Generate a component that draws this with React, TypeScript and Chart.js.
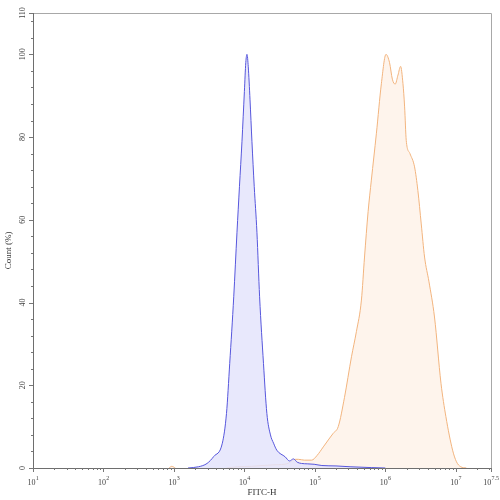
import React, { useEffect, useRef } from "react";
import { Chart, registerables } from "chart.js";

Chart.register(...registerables);

// FITC-H positions are given as log10 exponents; null = no events drawn
const blueLogX = [3.2, 3.35, 3.47, 3.566, 3.687, 3.746, 3.792, 3.849, 3.895, 3.93, 3.966, 4.0, 4.02, 4.037, 4.055, 4.08, 4.107, 4.14, 4.178, 4.216, 4.271, 4.319, 4.37, 4.414, 4.46, 4.579, 4.64, 4.696, 4.75, 4.81, 4.9, 4.99, 5.1, 5.3, 5.5, 5.8, 6.0];
const blueCount = [0, 0.3, 1.1, 2.8, 6, 13.2, 25.3, 41.4, 57, 68, 79, 91, 98, 100, 97, 89, 79, 68, 57, 41.4, 25.3, 13.2, 8, 6, 4.3, 2.7, 1.7, 2.2, 1.4, 1.1, 1.0, 0.9, 0.6, 0.5, 0.3, 0.1, 0];

const orangeLogX = [2.93, 2.97, 3.02, 3.3, 3.75, 3.9, 4.1, 4.25, 4.45, 4.6, 4.68, 4.72, 4.767, 4.85, 4.955, 5.03, 5.12, 5.2, 5.261, 5.332, 5.42, 5.52, 5.59, 5.661, 5.705, 5.756, 5.802, 5.873, 5.944, 6.01, 6.06, 6.1, 6.14, 6.18, 6.217, 6.25, 6.274, 6.297, 6.35, 6.415, 6.462, 6.51, 6.557, 6.62, 6.698, 6.79, 6.86, 6.955, 7.01, 7.07, 7.15];
const orangeCount = [0, 0.4, 0, null, 0, 0.3, 0.4, 0.6, 0.8, 1.0, 1.8, 2.1, 2.1, 1.9, 1.9, 3, 5.1, 7, 8.4, 10, 17, 26.9, 33, 40.6, 51, 62, 69.6, 80.8, 92.9, 100, 98, 94, 92.8, 95, 97.1, 93, 87.3, 79.2, 76, 72.8, 67.1, 59, 51, 45, 36.5, 20.5, 12.4, 4.3, 1.5, 0.3, 0];

const xMajorExponents = [1, 2, 3, 4, 5, 6, 7, 7.5];
const xMajorLabels = ["1", "2", "3", "4", "5", "6", "7", "7.5"];
const yMajorTicks = [0, 20, 40, 60, 80, 100, 110];
const yMinorStep = 4;

const X_TITLE = "FITC-H";
const Y_TITLE = "Count (%)";
const FONT = "'Liberation Serif', 'DejaVu Serif', serif";

const axesPlugin = {
  id: "flowAxes",
  afterDraw(chart: any) {
    const { ctx, chartArea } = chart;
    const xs = chart.scales.x;
    const ys = chart.scales.y;
    const { left, right, top, bottom } = chartArea;
    ctx.save();
    // frame (top & right)
    ctx.strokeStyle = "#a8a8a8";
    ctx.lineWidth = 1;
    ctx.beginPath();
    ctx.moveTo(left, top + 0.5);
    ctx.lineTo(right + 0.5, top + 0.5);
    ctx.lineTo(right + 0.5, bottom);
    ctx.stroke();
    // axes lines
    ctx.strokeStyle = "#6e6e6e";
    ctx.beginPath();
    ctx.moveTo(left + 0.5, top);
    ctx.lineTo(left + 0.5, bottom + 0.5);
    ctx.lineTo(right + 0.5, bottom + 0.5);
    ctx.stroke();

    // x ticks
    ctx.strokeStyle = "#777";
    ctx.beginPath();
    for (let d = 1; d <= 7; d++) {
      for (let m = 1; m <= 9; m++) {
        const v = m * Math.pow(10, d);
        if (v > xs.max) break;
        const px = Math.round(xs.getPixelForValue(v)) + 0.5;
        const len = m === 1 ? 4 : 2;
        ctx.moveTo(px, bottom);
        ctx.lineTo(px, bottom + len);
      }
    }
    const pxEnd = Math.round(xs.getPixelForValue(Math.pow(10, 7.5))) + 0.5;
    ctx.moveTo(pxEnd, bottom);
    ctx.lineTo(pxEnd, bottom + 4);
    // y ticks
    for (let v = 0; v <= 110; v += yMinorStep) {
      const py = Math.round(ys.getPixelForValue(v)) + 0.5;
      const len = v % 20 === 0 ? 4 : 2;
      ctx.moveTo(left, py);
      ctx.lineTo(left - len, py);
    }
    yMajorTicks.forEach((v) => {
      const py = Math.round(ys.getPixelForValue(v)) + 0.5;
      ctx.moveTo(left, py);
      ctx.lineTo(left - 4, py);
    });
    ctx.stroke();

    // x labels: 10 with superscript exponent
    ctx.fillStyle = "#444";
    ctx.textBaseline = "alphabetic";
    xMajorExponents.forEach((e, i) => {
      const px = xs.getPixelForValue(Math.pow(10, e));
      ctx.font = `8px ${FONT}`;
      const bw = ctx.measureText("10").width;
      ctx.font = `6px ${FONT}`;
      const ew = ctx.measureText(xMajorLabels[i]).width;
      const startX = px - (bw + ew) / 2;
      ctx.font = `8px ${FONT}`;
      ctx.textAlign = "left";
      ctx.fillText("10", startX, bottom + 17);
      ctx.font = `6px ${FONT}`;
      ctx.fillText(xMajorLabels[i], startX + bw + 0.3, bottom + 12);
    });

    // y labels rotated
    ctx.font = `8px ${FONT}`;
    ctx.textAlign = "center";
    ctx.textBaseline = "middle";
    yMajorTicks.forEach((v) => {
      const py = ys.getPixelForValue(v);
      ctx.save();
      ctx.translate(left - 10, py);
      ctx.rotate(-Math.PI / 2);
      ctx.fillText(String(v), 0, 0);
      ctx.restore();
    });

    // titles
    ctx.font = `9px ${FONT}`;
    ctx.fillStyle = "#333";
    ctx.textAlign = "center";
    ctx.textBaseline = "middle";
    ctx.fillText(X_TITLE, (left + right) / 2, bottom + 25);
    ctx.save();
    ctx.translate(9, (top + bottom) / 2 + 10);
    ctx.rotate(-Math.PI / 2);
    ctx.fillText(Y_TITLE, 0, 0);
    ctx.restore();
    ctx.restore();
  },
};

export default function App() {
  const ref = useRef<HTMLCanvasElement | null>(null);
  useEffect(() => {
    if (!ref.current) return;
    const toPoints = (xs: number[], ys: (number | null)[]) =>
      xs.map((e, i) => ({ x: Math.pow(10, e), y: ys[i] }));
    const chart = new Chart(ref.current, {
      type: "line",
      data: {
        datasets: [
          {
            label: "Isotype",
            data: toPoints(blueLogX, blueCount),
            borderColor: "#5656dc",
            backgroundColor: "rgba(228,228,252,0.85)",
            borderWidth: 1,
            fill: "origin",
            pointRadius: 0,
            cubicInterpolationMode: "monotone",
          },
          {
            label: "Sample",
            data: toPoints(orangeLogX, orangeCount),
            borderColor: "#f2b47e",
            backgroundColor: "rgba(253,240,228,0.7)",
            borderWidth: 1,
            fill: "origin",
            pointRadius: 0,
            spanGaps: false,
            cubicInterpolationMode: "monotone",
          },
        ],
      },
      options: {
        animation: false,
        responsive: false,
        devicePixelRatio: 1,
        layout: { padding: { left: 33, right: 9, top: 13, bottom: 32 } },
        plugins: { legend: { display: false }, tooltip: { enabled: false } },
        scales: {
          x: { type: "logarithmic", min: 10, max: Math.pow(10, 7.5), display: false },
          y: { type: "linear", min: 0, max: 110, display: false },
        },
      },
      plugins: [axesPlugin],
    });
    return () => chart.destroy();
  }, []);
  return (
    <div style={{ position: "fixed", left: 0, top: 0, width: 500, height: 500, background: "#fff" }}>
      <canvas ref={ref} width={500} height={500} style={{ width: 500, height: 500 }} />
    </div>
  );
}
